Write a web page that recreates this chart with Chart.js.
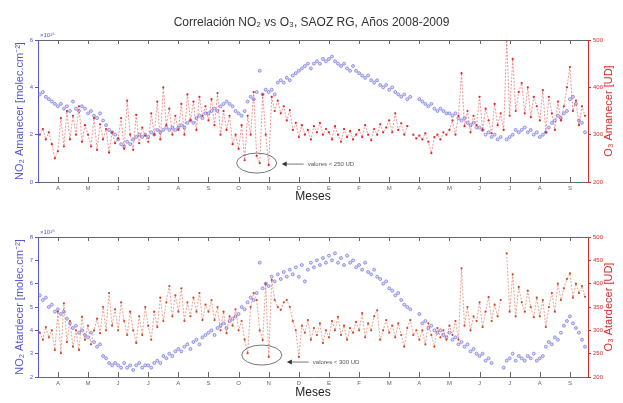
<!DOCTYPE html>
<html>
<head>
<meta charset="utf-8">
<script src="https://cdn.jsdelivr.net/npm/chart.js@4.4.1/dist/chart.umd.min.js"></script>
<style>
  body { margin: 0; background: #fff; }
  #wrap { position: relative; width: 623px; height: 403px; }
  #c1 { position: absolute; left: 0; top: 0; }
  #c2 { position: absolute; left: 0; top: 200px; }
</style>
</head>
<body>
<div id="wrap">
  <canvas id="c1" width="623" height="206"></canvas>
  <canvas id="c2" width="623" height="203"></canvas>
</div>
<script>
// month ticks, Apr 2008 .. Sep 2009
const monthLabels = ['A','M','J','J','A','S','O','N','D','E','F','M','A','M','J','J','A','S'];

// sample positions in months from the first "A" tick
const months = [
  -0.6,-0.5,-0.4,-0.3,-0.2,-0.1,
  0,0.1,0.2,0.3,0.4,0.5,0.6,0.7,0.8,0.9,
  1,1.1,1.2,1.3,1.4,1.5,1.6,1.7,1.8,1.9,
  2,2.1,2.2,2.3,2.4,2.5,2.6,2.7,2.8,2.9,
  3,3.1,3.2,3.3,3.4,3.5,3.6,3.7,3.8,3.9,
  4,4.1,4.2,4.3,4.4,4.5,4.6,4.7,4.8,4.9,
  5,5.1,5.2,5.3,5.4,5.5,5.6,5.7,5.8,5.9,
  6,6.1,6.2,6.3,6.4,6.5,6.6,6.7,6.8,6.9,
  7,7.1,7.2,7.3,7.4,7.5,7.6,7.7,7.8,7.9,
  8,8.1,8.2,8.3,8.4,8.5,8.6,8.7,8.8,8.9,
  9,9.1,9.2,9.3,9.4,9.5,9.6,9.7,9.8,9.9,
  10,10.1,10.2,10.3,10.4,10.5,10.6,10.7,10.8,10.9,
  11,11.1,11.2,11.3,11.4,11.5,11.6,11.7,11.8,11.9,
  12,12.1,12.2,12.3,12.4,12.5,12.6,12.7,12.8,12.9,
  13,13.1,13.2,13.3,13.4,13.5,13.6,13.7,13.8,13.9,
  14,14.1,14.2,14.3,14.4,14.5,14.6,14.7,14.8,14.9,
  15,15.1,15.2,15.3,15.4,15.5,15.6,15.7,15.8,15.9,
  16,16.1,16.2,16.3,16.4,16.5,16.6,16.7,16.8,16.9,
  17,17.1,17.2,17.3,17.4,17.5
];

// NO2 sunrise (x10^15 molec/cm2)
const no2Am = [
  3.7,3.8,3.6,3.5,3.4,3.3,
  3.2,3.3,3.1,3.2,3.0,3.4,3.1,3.0,3.2,3.1,
  2.9,3.0,2.8,2.7,2.9,2.6,2.4,2.2,2.1,2.0,
  1.8,1.6,1.5,1.7,1.6,1.8,1.9,2.0,1.9,2.0,
  1.9,2.1,2.0,2.2,2.1,2.2,2.3,2.2,2.3,2.2,
  2.3,2.4,2.3,2.5,2.6,2.5,2.7,2.8,2.7,2.9,
  2.9,3.0,3.1,3.0,3.2,3.3,3.4,3.3,3.2,3.0,
  2.9,2.8,3.0,3.4,3.6,3.5,3.8,4.7,3.7,3.9,
  3.8,3.9,3.7,4.2,4.3,4.2,4.4,4.3,4.5,4.6,
  4.7,4.8,4.9,5.0,4.8,5.0,5.1,5.0,5.2,5.1,
  5.2,5.3,5.1,5.0,4.9,5.0,4.8,4.7,4.9,4.7,
  4.6,4.5,4.4,4.5,4.3,4.2,4.3,4.1,4.0,4.1,
  3.9,4.0,3.8,3.7,3.6,3.7,3.5,3.6,null,null,
  3.5,3.4,3.3,3.2,3.3,3.1,3.0,3.1,3.0,2.9,
  2.9,2.8,2.9,2.7,2.6,2.7,2.5,2.4,2.5,2.3,
  2.3,2.2,2.0,2.1,1.9,2.0,1.8,1.9,null,1.8,
  1.9,2.0,2.2,2.1,2.2,2.3,2.1,2.2,2.0,2.1,
  1.9,2.0,2.1,2.3,2.5,2.6,2.8,2.7,2.9,3.0,
  3.5,3.6,3.3,2.6,2.5,2.1
];

// O3 sunrise (DU)
const o3Am = [
  300,312,290,305,280,250,
  265,335,275,350,290,340,300,360,285,320,
  300,275,335,268,322,290,312,262,305,282,
  292,335,270,372,300,268,342,282,315,298,
  285,345,300,370,290,400,320,355,300,340,
  310,365,300,385,330,370,310,380,340,360,
  330,375,320,388,300,350,310,340,280,300,
  270,320,246,340,300,390,255,240,385,300,
  236,380,350,372,345,360,330,352,310,325,
  295,320,300,310,290,318,305,325,300,312,
  305,290,318,300,285,312,295,308,290,300,
  310,295,320,300,288,312,300,322,305,315,
  330,305,345,310,324,300,318,null,300,292,
  298,290,303,285,261,295,300,290,305,300,
  310,330,300,340,430,318,350,305,340,320,
  380,310,355,330,303,365,320,345,310,500,
  340,460,350,390,409,345,400,337,380,360,
  330,394,305,380,345,310,370,330,360,400,
  443,350,372,320,360,340
];

// NO2 sunset (x10^15 molec/cm2)
const no2At = [
  5.5,5.3,5.4,5.0,5.1,4.8,
  4.9,4.7,4.8,4.5,4.3,4.1,4.2,3.9,4.0,3.8,
  3.7,3.9,3.5,3.3,3.4,2.9,2.8,2.6,2.5,2.6,
  2.5,2.4,2.6,2.4,2.5,2.3,2.5,2.6,2.4,2.5,
  2.5,2.4,2.6,2.7,2.6,2.9,2.8,3.0,2.9,3.1,
  3.2,3.1,3.3,3.4,3.2,3.5,3.6,3.4,3.7,3.8,
  3.9,4.0,3.8,4.1,4.2,4.3,4.1,4.4,4.5,4.6,
  4.7,5.0,4.9,5.2,5.4,5.3,5.6,6.9,5.8,6.0,
  5.9,6.3,6.1,6.4,6.2,6.5,6.3,6.6,6.4,6.7,
  6.3,6.8,6.1,6.6,6.9,6.7,7.0,6.8,7.1,6.9,
  7.2,7.0,7.3,6.9,7.1,6.8,7.2,6.9,7.0,6.7,
  6.8,6.6,6.9,6.5,6.4,6.6,6.3,6.2,6.0,6.1,
  5.8,5.7,5.5,5.6,5.3,5.1,5.0,4.9,null,null,
  4.7,4.3,4.4,4.1,4.2,4.0,3.9,4.0,3.8,3.7,
  3.9,3.6,3.7,3.4,3.5,3.3,3.4,3.1,3.2,3.0,
  2.9,3.0,2.7,2.8,2.6,null,null,null,2.4,2.7,
  2.8,3.0,2.7,2.9,2.8,2.7,2.9,2.8,3.0,2.7,
  2.8,2.9,3.3,3.5,3.4,3.7,3.6,3.9,4.2,4.4,
  4.6,4.3,4.1,3.9,3.6,3.3
];

// O3 sunset (DU)
const o3At = [
  295,280,307,285,300,258,
  340,251,358,275,320,265,300,258,329,280,
  310,270,300,325,294,350,300,380,310,345,
  300,360,320,290,340,300,273,330,290,350,
  310,280,340,307,370,320,360,395,330,375,
  340,390,320,360,330,370,340,380,322,355,
  340,365,322,350,300,340,294,330,310,345,
  300,320,280,251,350,380,365,300,279,400,
  243,408,365,350,344,360,365,350,320,300,
  243,310,295,322,280,305,290,315,273,300,
  285,320,300,329,290,310,280,305,295,318,
  300,337,285,315,300,330,343,280,300,322,
  295,310,285,315,290,265,305,322,290,300,
  280,300,270,315,290,265,305,285,300,280,
  310,290,320,280,433,310,350,300,330,320,
  360,307,340,371,320,355,330,365,null,465,
  340,420,330,393,360,340,385,350,328,370,
  330,365,307,350,380,340,400,365,390,410,
  422,370,400,380,395,372
];

const FONT = '"Liberation Sans", Arial, sans-serif';
Chart.defaults.font.family = FONT;

const BLUE = 'rgb(85,85,215)';
const RED = 'rgb(215,45,45)';

// inward x ticks, top frame line, right title, exponent and the ellipse note
const frameExtras = {
  id: 'frameExtras',
  afterDraw(chart, args, opts) {
    const { ctx, chartArea: a, scales } = chart;
    const xs = scales.x, yr = scales.y1;
    ctx.save();
    ctx.strokeStyle = '#666';
    ctx.lineWidth = 1;
    ctx.beginPath();
    ctx.moveTo(a.left, a.top + 0.5);
    ctx.lineTo(a.right, a.top + 0.5);
    ctx.stroke();
    xs.ticks.forEach((t, i) => {
      const px = Math.round(xs.getPixelForTick(i)) + 0.5;
      ctx.beginPath();
      ctx.moveTo(px, a.bottom);
      ctx.lineTo(px, a.bottom - 5);
      ctx.moveTo(px, a.top);
      ctx.lineTo(px, a.top + 4);
      ctx.stroke();
    });

    // exponent of the left axis
    ctx.fillStyle = BLUE;
    ctx.font = '6px ' + FONT;
    ctx.textAlign = 'left';
    ctx.textBaseline = 'bottom';
    ctx.fillText('×10¹⁵', a.left + 2, a.top - 2);

    // note ellipse + arrow
    const n = opts.note;
    const cx = xs.getPixelForValue(n.x), cy = yr.getPixelForValue(n.y);
    ctx.strokeStyle = '#555';
    ctx.lineWidth = 0.8;
    ctx.beginPath();
    ctx.ellipse(cx, cy, 20, 10, 0, 0, 2 * Math.PI);
    ctx.stroke();
    const ay = cy + n.dy;
    ctx.beginPath();
    ctx.moveTo(cx + 29, ay);
    ctx.lineTo(cx + 47, ay);
    ctx.stroke();
    ctx.fillStyle = '#333';
    ctx.beginPath();
    ctx.moveTo(cx + 25, ay);
    ctx.lineTo(cx + 30, ay - 2.5);
    ctx.lineTo(cx + 30, ay + 2.5);
    ctx.closePath();
    ctx.fill();
    ctx.fillStyle = '#555';
    ctx.font = '6px ' + FONT;
    ctx.textBaseline = 'middle';
    ctx.fillText(n.text, cx + 51, ay);

    // right axis title, reading upwards
    ctx.translate(a.right + 21, (a.top + a.bottom) / 2);
    ctx.rotate(-Math.PI / 2);
    ctx.fillStyle = RED;
    ctx.font = '11px ' + FONT;
    ctx.textAlign = 'center';
    ctx.textBaseline = 'middle';
    ctx.fillText(opts.rightTitle, 0, 0);
    ctx.restore();
  }
};

function points(vals) {
  return months.map((m, i) => ({ x: m, y: vals[i] }));
}

function makeChart(id, cfg) {
  return new Chart(document.getElementById(id), {
    type: 'scatter',
    data: {
      datasets: [
        {
          label: 'O3',
          data: points(cfg.o3),
          yAxisID: 'y1',
          showLine: true,
          borderColor: cfg.redLine,
          borderWidth: 0.7,
          borderDash: [2, 1.5],
          pointRadius: 1.1,
          pointBackgroundColor: cfg.red,
          pointBorderWidth: 0,
          order: 1,
        },
        {
          label: 'NO2',
          data: points(cfg.no2),
          yAxisID: 'y',
          pointRadius: 1.5,
          pointBorderWidth: 0.8,
          pointBorderColor: 'rgba(95,95,220,0.75)',
          pointBackgroundColor: 'rgba(160,160,240,0.4)',
          order: 2,
        },
      ],
    },
    options: {
      responsive: false,
      animation: false,
      devicePixelRatio: 1,
      layout: { padding: { top: cfg.padTop, left: 0, right: 0, bottom: 0 } },
      plugins: {
        legend: { display: false },
        tooltip: { enabled: false },
        title: cfg.title ? {
          display: true,
          text: cfg.title,
          color: '#333',
          font: { size: 12, weight: 'normal' },
          padding: { top: 15, bottom: 10.6 },
        } : { display: false },
        frameExtras: { rightTitle: cfg.rightTitle, note: cfg.note },
      },
      scales: {
        x: {
          type: 'linear',
          min: -0.66,
          max: 17.6,
          afterBuildTicks: s => { s.ticks = monthLabels.map((l, i) => ({ value: i })); },
          ticks: {
            callback: v => monthLabels[v] ?? '',
            font: { size: 6 },
            color: '#666',
            padding: 3,
            maxRotation: 0,
            autoSkip: false,
          },
          grid: { display: false, drawTicks: false },
          border: { color: '#666', width: 1 },
          title: {
            display: true,
            text: 'Meses',
            color: '#222',
            font: { size: 12 },
            padding: { top: 0, bottom: cfg.mesesPad },
          },
          afterFit: s => { s.height = cfg.xHeight; },
        },
        y: {
          position: 'left',
          min: cfg.no2Min,
          max: cfg.no2Max,
          ticks: { stepSize: cfg.no2Step, font: { size: 6 }, color: BLUE, padding: 2 },
          grid: { drawOnChartArea: false, tickLength: 3, color: BLUE },
          border: { color: BLUE, width: 1 },
          title: {
            display: true,
            text: cfg.leftTitle,
            color: BLUE,
            font: { size: 11 },
            padding: { top: 13, bottom: 0 },
          },
          afterFit: s => { s.width = 38; },
        },
        y1: {
          position: 'right',
          min: 200,
          max: 500,
          ticks: { stepSize: cfg.o3Step, font: { size: 6 }, color: RED, padding: 2 },
          grid: { drawOnChartArea: false, tickLength: 3, color: RED },
          border: { color: RED, width: 1 },
          afterFit: s => { s.width = 35; },
        },
      },
    },
    plugins: [frameExtras],
  });
}

makeChart('c1', {
  title: 'Correlación NO₂ vs O₃, SAOZ RG, Años 2008-2009',
  padTop: 0,
  xHeight: 24,
  mesesPad: 2.4,
  no2: no2Am, o3: o3Am,
  no2Min: 0, no2Max: 6, no2Step: 2, o3Step: 100,
  red: 'rgb(225,35,35)', redLine: 'rgba(225,55,55,0.75)',
  leftTitle: 'NO₂ Amanecer [molec.cm⁻²]',
  rightTitle: 'O₃ Amanecer [UD]',
  note: { x: 6.6, y: 240, dy: 1, text: 'valores < 250 UD' },
});

makeChart('c2', {
  title: null,
  padTop: 37,
  xHeight: 26,
  mesesPad: 3.4,
  no2: no2At, o3: o3At,
  no2Min: 2, no2Max: 8, no2Step: 1, o3Step: 50,
  red: 'rgb(205,70,35)', redLine: 'rgba(210,80,45,0.75)',
  leftTitle: 'NO₂ Atardecer [molec.cm⁻²]',
  rightTitle: 'O₃ Atardecer [UD]',
  note: { x: 6.77, y: 247, dy: 7, text: 'valores < 300 UD' },
});
</script>
</body>
</html>
